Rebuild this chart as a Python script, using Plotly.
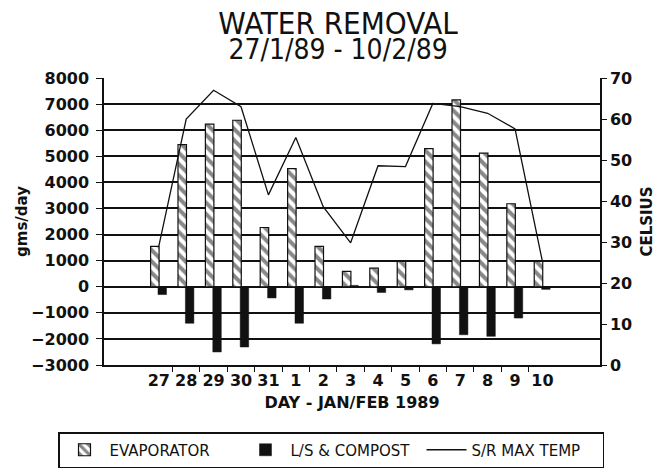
import plotly.graph_objects as go

days = ["27", "28", "29", "30", "31", "1", "2", "3", "4", "5", "6", "7", "8", "9", "10"]
evaporator = [1550, 5450, 6230, 6380, 2270, 4530, 1550, 590, 710, 970, 5290, 7160, 5120, 3180, 970]
ls_compost = [-300, -1400, -2500, -2310, -430, -1400, -470, 50, -220, -120, -2190, -1840, -1900, -1200, -100]
max_temp = [29, 60, 67, 63, 41.5, 55.5, 38.6, 29.8, 48.6, 48.4, 63.8, 63.0, 61.4, 57.6, 25.2]

pos = list(range(len(days)))
bounds = [p + 0.5 for p in pos[:-1]]

BLACK = "#111111"
FONT = "DejaVu Sans, Liberation Sans, sans-serif"
COND = "DejaVu Sans Condensed, Liberation Sans Narrow, DejaVu Sans, sans-serif"

fig = go.Figure()
fig.add_trace(go.Bar(
    x=pos, y=evaporator, name="EVAPORATOR",
    offset=-0.3, width=0.31,
    marker=dict(color="white", line=dict(color=BLACK, width=1.2),
                pattern=dict(shape="\\", fgcolor=BLACK, bgcolor="white", size=8, solidity=0.5)),
))
fig.add_trace(go.Bar(
    x=pos, y=ls_compost, name="L/S & COMPOST",
    offset=-0.03, width=0.31,
    marker=dict(color=BLACK, line=dict(color=BLACK, width=0.5)),
))
fig.add_trace(go.Scatter(
    x=pos, y=max_temp, name="S/R MAX TEMP", yaxis="y2",
    mode="lines", line=dict(color=BLACK, width=1.3),
))

TICKFONT = dict(size=16, weight="bold", family=FONT)

fig.update_layout(
    width=659, height=473,
    margin=dict(l=104, r=59, t=78, b=108, autoexpand=False),
    paper_bgcolor="white", plot_bgcolor="white",
    barmode="overlay",
    font=dict(family=FONT, size=16, color=BLACK),
    showlegend=True,
    legend=dict(
        orientation="h",
        x=(58 - 104) / 496, xanchor="left", y=(365 - 432) / 287, yanchor="top",
        bordercolor=BLACK, borderwidth=1.5, font=dict(size=15, family=FONT),
        traceorder="normal", entrywidth=126, itemwidth=40,
    ),
    xaxis=dict(
        range=[-2.0, 16.1], tickmode="array", tickvals=pos, ticktext=days,
        ticks="", showgrid=False, zeroline=False, automargin=False,
        showline=True, linecolor=BLACK, linewidth=1.5,
        tickfont=TICKFONT,
        minor=dict(tickmode="array", tickvals=bounds, ticks="outside", ticklen=5,
                   tickcolor=BLACK, tickwidth=1.2, showgrid=False),
        title=dict(text="DAY - JAN/FEB 1989", font=dict(size=16, weight="bold"), standoff=8),
    ),
    yaxis=dict(
        range=[-3000, 8000], dtick=1000, tick0=0, automargin=False,
        showgrid=True, gridcolor=BLACK, gridwidth=1.5,
        zeroline=True, zerolinecolor=BLACK, zerolinewidth=1.5,
        showline=True, linecolor=BLACK, linewidth=1.5,
        ticks="outside", ticklen=6, tickcolor=BLACK, tickwidth=1.2,
        ticklabelstandoff=4,
        tickfont=TICKFONT,
        title=dict(text="gms/day", font=dict(size=15, weight="bold"), standoff=0),
    ),
    yaxis2=dict(
        range=[0, 70], dtick=10, overlaying="y", side="right", automargin=False,
        showgrid=False, zeroline=False,
        showline=True, linecolor=BLACK, linewidth=1.5,
        ticks="outside", ticklen=5, tickcolor=BLACK, tickwidth=1.2,
        tickfont=TICKFONT,
        title=dict(text="CELSIUS", font=dict(size=15, weight="bold"), standoff=10),
    ),
    title=dict(
        text=("<span style='font-size:31px'>WATER REMOVAL</span><br>"
              "<span style='font-size:28px'>27/1/89 - 10/2/89</span>"),
        font=dict(family=COND, size=19, color=BLACK),
        x=0.513, xref="container", xanchor="center",
        y=1 - 34 / 473, yref="container", yanchor="top",
    ),
)

fig.write_html("out.html", config={"displayModeBar": False},
               post_script="document.body.style.margin='0px';")
